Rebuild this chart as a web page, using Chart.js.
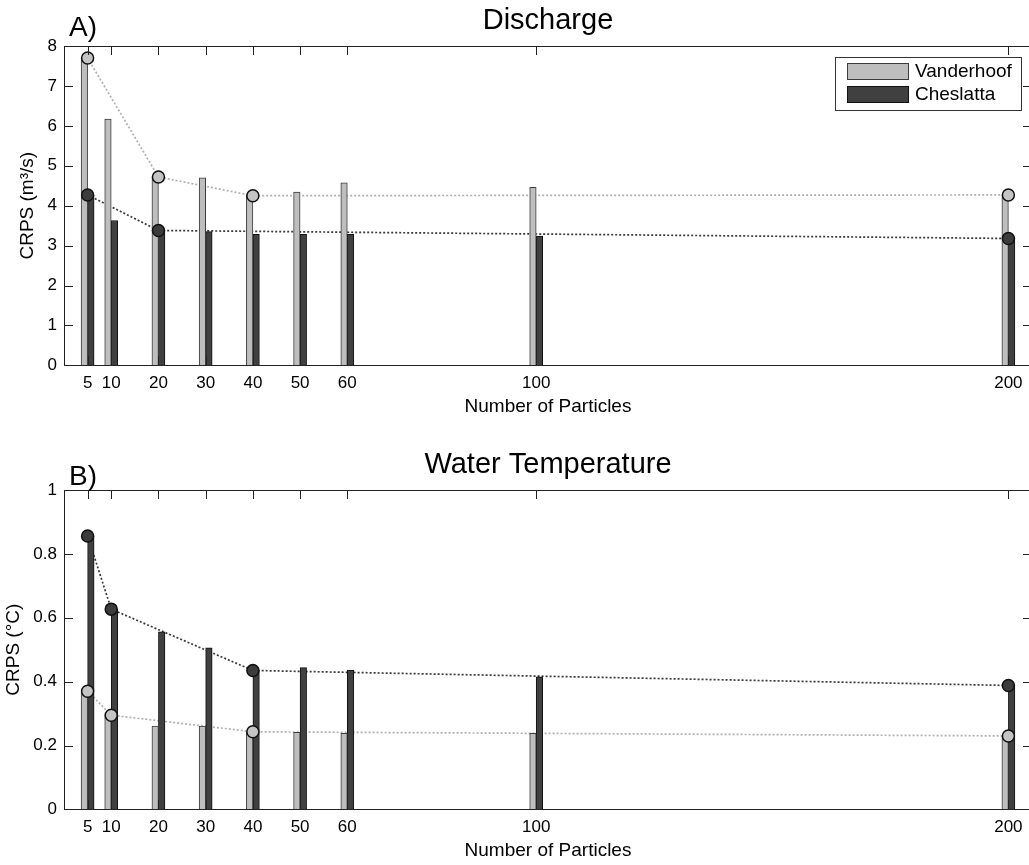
<!DOCTYPE html>
<html>
<head>
<meta charset="utf-8">
<title>CRPS vs number of particles</title>
<script src="https://cdn.jsdelivr.net/npm/chart.js@4/dist/chart.umd.min.js"></script>
<style>
  html, body { margin: 0; padding: 0; background: #fff; overflow: hidden; }
  #wrap { position: relative; width: 1029px; height: 865px; overflow: hidden; background: #fff; }
  canvas { position: absolute; left: 0; }
  #chartQ { top: 0; }
  #chartT { top: 444px; }
</style>
</head>
<body>
<div id="wrap">
  <canvas id="chartQ" width="1040" height="444"></canvas>
  <canvas id="chartT" width="1040" height="444"></canvas>
</div>
<script>
// Particle counts tested and the x tick labels
const particles = [5, 10, 20, 30, 40, 50, 60, 100, 200];
const xTickValues = [5, 10, 20, 30, 40, 50, 60, 100, 200];

// Discharge CRPS (m3/s)
const vanderhoofQ = [7.70, 6.17, 4.72, 4.70, 4.27, 4.34, 4.57, 4.46, 4.27];
const cheslattaQ  = [4.27, 3.63, 3.38, 3.35, 3.28, 3.28, 3.28, 3.24, 3.18];
// Discharge trend points (dotted lines with markers)
const vanderhoofQTrendX = [5, 20, 40, 200];
const vanderhoofQTrend  = [7.70, 4.72, 4.25, 4.27];
const cheslattaQTrendX  = [5, 20, 200];
const cheslattaQTrend   = [4.27, 3.38, 3.18];

// Water temperature CRPS (degC)
const vanderhoofT = [0.370, 0.295, 0.261, 0.261, 0.243, 0.241, 0.238, 0.238, 0.230];
const cheslattaT  = [0.856, 0.627, 0.556, 0.506, 0.435, 0.444, 0.436, 0.415, 0.388];
// Water temperature trend points
const vanderhoofTTrendX = [5, 10, 40, 200];
const vanderhoofTTrend  = [0.370, 0.295, 0.243, 0.230];
const cheslattaTTrendX  = [5, 10, 40, 200];
const cheslattaTTrend   = [0.856, 0.627, 0.435, 0.388];

// Y tick settings per panel
const yTicksQ = { min: 0, max: 8, step: 1 };
const yTicksT = { min: 0, max: 1, step: 0.2 };

const FONT = '"Liberation Sans", Arial, Helvetica, sans-serif';
Chart.defaults.font.family = FONT;
Chart.defaults.color = '#000';

const LIGHT = { fill: '#bebebe', edge: '#3c3c3c', line: '#b0b0b0' };
const DARK  = { fill: '#404040', edge: '#111111', line: '#3a3a3a' };

const pts = (xs, ys) => xs.map((x, i) => ({ x: x, y: ys[i] }));

// Box frame with inward ticks on all four sides
const frameTicks = {
  id: 'frameTicks',
  afterDatasetsDraw(chart) {
    const { ctx, chartArea: a, scales: { x, y } } = chart;
    const L = 9;
    ctx.save();
    ctx.strokeStyle = '#222';
    ctx.lineWidth = 1;
    ctx.beginPath();
    x.ticks.forEach(t => {
      const px = Math.round(x.getPixelForValue(t.value)) + 0.5;
      ctx.moveTo(px, a.bottom); ctx.lineTo(px, a.bottom - L);
      ctx.moveTo(px, a.top); ctx.lineTo(px, a.top + L);
    });
    y.ticks.forEach(t => {
      const py = Math.round(y.getPixelForValue(t.value)) + 0.5;
      ctx.moveTo(a.left, py); ctx.lineTo(a.left + L, py);
      ctx.moveTo(a.right, py); ctx.lineTo(a.right - L, py);
    });
    ctx.stroke();
    ctx.strokeRect(Math.round(a.left) + 0.5, Math.round(a.top) + 0.5,
                   Math.round(a.right - a.left), Math.round(a.bottom - a.top));
    ctx.restore();
  }
};

// Panel letter and the boxed bar legend
const panelMarks = {
  id: 'panelMarks',
  afterDraw(chart, args, opts) {
    const { ctx, chartArea: a } = chart;
    ctx.save();
    ctx.fillStyle = '#000';
    ctx.font = '28px ' + FONT;
    ctx.textAlign = 'left';
    ctx.textBaseline = 'alphabetic';
    ctx.fillText(opts.tag, a.left + 5, a.top - opts.tagGap);
    if (opts.legend) {
      const bars = chart.data.datasets.filter(d => d.type === 'bar');
      const w = 186, h = 53;
      const bx = Math.round(a.right - 11 - w), by = Math.round(a.top + 11);
      ctx.fillStyle = '#fff';
      ctx.fillRect(bx, by, w, h);
      ctx.strokeStyle = '#333';
      ctx.lineWidth = 1;
      ctx.strokeRect(bx + 0.5, by + 0.5, w, h);
      ctx.font = '19px ' + FONT;
      ctx.textBaseline = 'middle';
      bars.forEach((d, i) => {
        const py = by + 6 + i * 23;
        ctx.fillStyle = d.backgroundColor;
        ctx.fillRect(bx + 12, py, 62, 17);
        ctx.strokeStyle = d.borderColor;
        ctx.strokeRect(bx + 12.5, py + 0.5, 61, 16);
        ctx.fillStyle = '#000';
        ctx.fillText(d.label, bx + 80, py + 9);
      });
    }
    ctx.restore();
  }
};

function makePanel(canvasId, cfg) {
  const datasets = [
    { type: 'bar', label: 'Vanderhoof', data: pts(particles, cfg.light),
      backgroundColor: LIGHT.fill, borderColor: LIGHT.edge, borderWidth: 1,
      barThickness: 6.5, order: 2 },
    { type: 'bar', label: 'Cheslatta', data: pts(particles, cfg.dark),
      backgroundColor: DARK.fill, borderColor: DARK.edge, borderWidth: 1,
      barThickness: 6.5, order: 2 },
    // dotted trend lines sit beneath the bars
    { type: 'line', label: 'Vanderhoof trend', data: pts(cfg.lightTrendX, cfg.lightTrend),
      borderColor: LIGHT.line, borderWidth: 1.7, borderDash: [2, 2], pointRadius: 0,
      fill: false, tension: 0, order: 3 },
    { type: 'line', label: 'Cheslatta trend', data: pts(cfg.darkTrendX, cfg.darkTrend),
      borderColor: DARK.line, borderWidth: 1.7, borderDash: [2, 2], pointRadius: 0,
      fill: false, tension: 0, order: 3 },
    // circle markers drawn over the bars
    { type: 'line', label: 'Vanderhoof points', data: pts(cfg.lightTrendX, cfg.lightTrend),
      showLine: false, pointRadius: 6, pointBackgroundColor: '#c4c4c4',
      pointBorderColor: '#111', pointBorderWidth: 1.5, order: 1 },
    { type: 'line', label: 'Cheslatta points', data: pts(cfg.darkTrendX, cfg.darkTrend),
      showLine: false, pointRadius: 6, pointBackgroundColor: '#3c3c3c',
      pointBorderColor: '#111', pointBorderWidth: 1.5, order: 1 }
  ];

  return new Chart(document.getElementById(canvasId), {
    type: 'bar',
    data: { datasets },
    options: {
      responsive: false,
      animation: false,
      devicePixelRatio: 1,
      events: [],
      layout: { padding: { top: 4, right: 8, bottom: 0, left: 0 } },
      plugins: {
        legend: { display: false },
        tooltip: { enabled: false },
        title: {
          display: true, text: cfg.title, fullSize: false, color: '#000',
          font: { size: 29, weight: 'normal', lineHeight: 1.2 },
          padding: { top: 0, bottom: 7.2 }
        },
        panelMarks: { tag: cfg.tag, tagGap: cfg.tagGap, legend: cfg.legend }
      },
      scales: {
        x: {
          type: 'linear', min: 0, max: 205, offset: false,
          grid: { display: false, drawTicks: false, offset: false },
          border: { display: false },
          afterBuildTicks: s => { s.ticks = xTickValues.map(v => ({ value: v })); },
          afterFit: s => { s.height = 78.6; },
          ticks: { font: { size: 17 }, padding: 7.5, color: '#000',
                   maxRotation: 0, autoSkip: false, callback: v => String(v) },
          title: { display: true, text: 'Number of Particles', color: '#000',
                   font: { size: 19 }, padding: { top: 0, bottom: 26 } }
        },
        y: {
          min: cfg.yTicks.min, max: cfg.yTicks.max,
          grid: { display: false, drawTicks: false },
          border: { display: false },
          afterFit: s => { s.width = 64; },
          ticks: { stepSize: cfg.yTicks.step, font: { size: 17 }, padding: 7, color: '#000',
                   callback: v => String(Number(v.toFixed(2))) },
          title: { display: true, text: cfg.yTitle, color: '#000',
                   font: { size: 19 }, padding: { top: cfg.yTitlePad, bottom: 0 } }
        }
      }
    },
    plugins: [frameTicks, panelMarks]
  });
}

makePanel('chartQ', {
  title: 'Discharge', tag: 'A)', tagGap: 10, legend: true,
  yTitle: 'CRPS (m\u00B3/s)', yTicks: yTicksQ, yTitlePad: 16.6,
  light: vanderhoofQ, dark: cheslattaQ,
  lightTrendX: vanderhoofQTrendX, lightTrend: vanderhoofQTrend,
  darkTrendX: cheslattaQTrendX, darkTrend: cheslattaQTrend
});

makePanel('chartT', {
  title: 'Water Temperature', tag: 'B)', tagGap: 5, legend: false,
  yTitle: 'CRPS (\u00B0C)', yTicks: yTicksT, yTitlePad: 2.5,
  light: vanderhoofT, dark: cheslattaT,
  lightTrendX: vanderhoofTTrendX, lightTrend: vanderhoofTTrend,
  darkTrendX: cheslattaTTrendX, darkTrend: cheslattaTTrend
});
</script>
</body>
</html>
